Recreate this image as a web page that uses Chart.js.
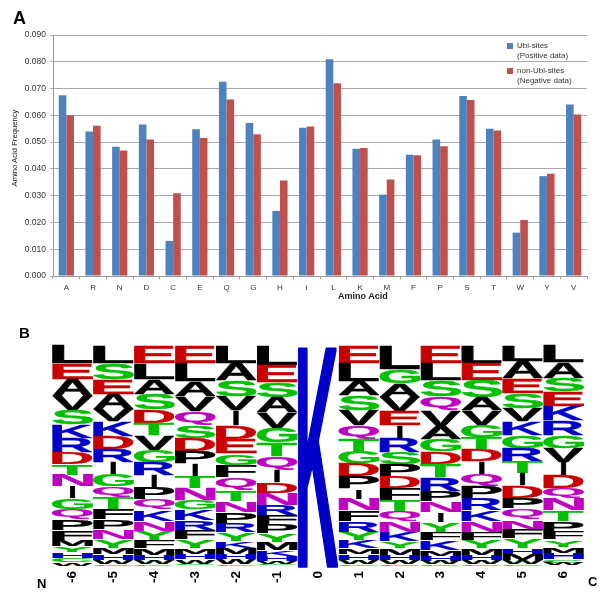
<!DOCTYPE html>
<html>
<head>
<meta charset="utf-8">
<script src="https://cdn.jsdelivr.net/npm/chart.js@4"></script>
<style>
    html, body { margin: 0; padding: 0; background: #fff; }
    #page { position: relative; width: 600px; height: 592px; overflow: hidden; font-family: "Liberation Sans", sans-serif; }
    #barChart, #logoChart { position: absolute; left: 0; filter: blur(0.35px); }
    #barChart { top: 0; }
    #logoChart { top: 320px; }
    .note { position: absolute; font-weight: bold; color: #000; line-height: 1; white-space: nowrap; }
</style>
</head>
<body>
<div id="page">
    <canvas id="barChart" width="600" height="310"></canvas>
    <canvas id="logoChart" width="600" height="272"></canvas>
    <div class="note" style="left:13px;top:9px;font-size:18px">A</div>
    <div class="note" style="left:19px;top:325px;font-size:15px">B</div>
    <div class="note" style="left:37px;top:577px;font-size:13px">N</div>
    <div class="note" style="left:588px;top:575px;font-size:13px">C</div>
    <div class="note" style="left:338px;top:292px;font-size:9px;color:#222">Amino Acid</div>
    <div class="note" style="left:15px;top:148px;font-size:7.7px;font-weight:normal;color:#111;transform:translate(-50%,-50%) rotate(-90deg)">Amino Acid Frequency</div>
</div>

<script>
// panel A
const aminoAcids = ['A', 'R', 'N', 'D', 'C', 'E', 'Q', 'G', 'H', 'I', 'L', 'K', 'M', 'F', 'P', 'S', 'T', 'W', 'Y', 'V'];
const ubiSites = [0.0675, 0.0540, 0.0483, 0.0566, 0.0131, 0.0548, 0.0725, 0.0571, 0.0243, 0.0554, 0.0809, 0.0475, 0.0304, 0.0453, 0.0510, 0.0672, 0.0550, 0.0162, 0.0373, 0.0640];
const nonUbiSites = [0.0600, 0.0561, 0.0469, 0.0510, 0.0309, 0.0515, 0.0659, 0.0529, 0.0357, 0.0558, 0.0720, 0.0478, 0.0360, 0.0451, 0.0485, 0.0657, 0.0543, 0.0209, 0.0382, 0.0603];

// panel B, letters top to bottom for each position, heights in percent
const positions = ['-6', '-5', '-4', '-3', '-2', '-1', '0', '1', '2', '3', '4', '5', '6'];
const logoLetters = [
    'LEAVSKRDTNIGQPFMYHCW',
    'LSEAVKDRIGQTFPNYMHWC',
    'ELASDTVGRIPQKNYFMHWC',
    'ELAVQSDPITNGKRFYMHWC',
    'LASVIDEGFQTNPRYKMHWC',
    'LESAVGTQIDNRFPYMKHWC',
    'K',
    'ELASVQTGDPINFRYKMHWC',
    'LGAVEIRSPDFTQNKYMHWC',
    'ELSQVAGDTRPNIYFKMHWC',
    'LESAVGTDIQPRKNFYMHWC',
    'LAESVKGRTIDPQNFYHMWC',
    'LASEKRGVIDQNTPFYMHCW'
];
const logoHeights = [
    [8.2, 7.0, 7.6, 6.4, 6.8, 6.1, 6.4, 5.3, 5.0, 5.3, 5.3, 5.0, 4.4, 5.0, 4.5, 3.0, 2.7, 2.7, 2.0, 1.4],
    [7.9, 7.3, 6.7, 7.0, 5.6, 6.8, 5.8, 5.9, 5.6, 5.5, 4.8, 5.5, 4.8, 4.5, 4.5, 3.8, 3.0, 2.6, 1.7, 0.8],
    [7.9, 7.3, 6.7, 7.3, 6.1, 5.6, 6.5, 5.6, 5.8, 5.6, 5.3, 5.0, 5.0, 4.5, 4.1, 3.8, 3.0, 2.6, 1.7, 0.8],
    [7.9, 8.3, 6.8, 6.8, 6.4, 5.8, 6.1, 5.6, 5.8, 5.3, 5.6, 4.2, 4.8, 4.5, 4.2, 3.8, 2.7, 2.6, 2.0, 0.8],
    [7.9, 8.0, 7.1, 6.4, 6.8, 6.2, 6.7, 5.2, 5.5, 5.8, 5.0, 5.2, 5.0, 4.1, 3.8, 3.2, 3.0, 2.3, 2.3, 0.8],
    [9.1, 7.6, 6.7, 7.0, 7.1, 6.5, 6.4, 6.1, 5.8, 4.8, 5.3, 4.8, 4.2, 4.1, 3.9, 3.6, 2.7, 2.3, 1.2, 0.8],
    [100],
    [7.9, 8.3, 6.5, 6.7, 7.0, 5.9, 6.1, 5.3, 5.8, 5.6, 4.5, 5.3, 5.0, 4.8, 3.8, 3.8, 2.7, 2.6, 1.7, 0.8],
    [10.6, 6.4, 6.4, 6.5, 6.4, 5.8, 6.4, 5.3, 5.8, 5.3, 5.3, 5.3, 4.5, 4.8, 4.2, 3.3, 3.0, 2.3, 1.7, 0.8],
    [7.9, 7.6, 7.6, 6.1, 7.3, 5.9, 5.8, 5.6, 6.1, 6.1, 4.7, 5.2, 4.5, 4.5, 3.8, 4.2, 2.6, 2.3, 1.7, 0.8],
    [7.9, 7.6, 7.9, 6.1, 6.5, 5.6, 5.3, 5.6, 5.8, 5.3, 5.8, 5.3, 5.0, 5.2, 3.8, 3.5, 3.0, 2.3, 2.0, 0.8],
    [7.1, 7.9, 6.8, 6.8, 5.8, 6.4, 5.8, 6.1, 5.3, 5.6, 5.6, 5.0, 5.0, 4.5, 4.1, 4.2, 2.7, 2.9, 1.7, 0.8],
    [7.6, 7.1, 6.1, 6.8, 6.5, 6.7, 5.8, 6.5, 5.9, 5.8, 4.8, 5.3, 5.0, 4.5, 3.8, 3.3, 2.7, 3.0, 1.5, 1.2]
];

const letterColors = {
    A: '#000', V: '#000', L: '#000', I: '#000', P: '#000', F: '#000', M: '#000', W: '#000',
    G: '#00c000', S: '#00c000', T: '#00c000', Y: '#00c000', C: '#00c000',
    K: '#0000c8', R: '#0000c8', H: '#0000c8',
    D: '#c80000', E: '#c80000',
    N: '#c000c0', Q: '#c000c0'
};

// legend sits inside the plot, upper right
const legendPlacer = {
    id: 'legendPlacer',
    afterLayout(chart) {
        const legend = chart.legend;
        const w = legend.width, h = legend.height;
        legend.left = 502;
        legend.right = 502 + w;
        legend.top = 37;
        legend.bottom = 37 + h;
    }
};

new Chart(document.getElementById('barChart').getContext('2d'), {
    type: 'bar',
    data: {
        labels: aminoAcids,
        datasets: [
            { label: ['Ubi-sites', '(Positive data)'], data: ubiSites, backgroundColor: '#4f81bd' },
            { label: ['non-Ubi-sites', '(Negative data)'], data: nonUbiSites, backgroundColor: '#c0504d' }
        ]
    },
    options: {
        responsive: false,
        animation: false,
        categoryPercentage: 0.57,
        barPercentage: 1,
        layout: { padding: { top: 35, right: 13 } },
        plugins: {
            tooltip: { enabled: false },
            legend: {
                position: 'chartArea',
                align: 'start',
                labels: {
                    boxWidth: 6,
                    boxHeight: 6,
                    padding: 5,
                    color: '#333',
                    font: { family: 'Liberation Sans', size: 8, lineHeight: 1.25 }
                }
            }
        },
        scales: {
            x: {
                grid: { drawOnChartArea: false, tickLength: 3, color: '#999' },
                border: { color: '#999' },
                ticks: { color: '#333', padding: 4, font: { family: 'Liberation Sans', size: 8 } },
                afterFit: function (scale) { scale.height = 34; }
            },
            y: {
                min: 0,
                max: 0.09,
                grid: { color: '#aaa', tickLength: 3 },
                border: { color: '#999' },
                ticks: {
                    stepSize: 0.01,
                    color: '#333',
                    padding: 4,
                    font: { family: 'Liberation Sans', size: 8.5 },
                    callback: function (value) { return value.toFixed(3); }
                },
                afterFit: function (scale) { scale.width = 53; }
            }
        }
    },
    plugins: [legendPlacer]
});

// stretches one glyph over each stacked bar
const letterPlugin = {
    id: 'letterPlugin',
    afterDatasetsDraw(chart) {
        const ctx = chart.ctx;
        ctx.save();
        ctx.font = 'bold 100px "Liberation Sans"';
        ctx.textAlign = 'left';
        ctx.textBaseline = 'alphabetic';
        ctx.lineWidth = 1.5;
        ctx.lineJoin = 'round';
        chart.data.datasets.forEach((dataset, rank) => {
            chart.getDatasetMeta(rank).data.forEach((bar, col) => {
                const letter = logoLetters[col][rank];
                if (!letter) return;
                const m = ctx.measureText(letter);
                const glyphW = m.actualBoundingBoxLeft + m.actualBoundingBoxRight;
                const glyphH = m.actualBoundingBoxAscent + m.actualBoundingBoxDescent;
                const top = Math.min(bar.y, bar.base);
                const h = Math.abs(bar.base - bar.y);
                const w = letter === 'I' ? bar.width * 0.13 : bar.width;
                ctx.save();
                ctx.translate(bar.x - w / 2, top);
                ctx.scale(w / glyphW, Math.max(h - 0.6, 0.5) / glyphH);
                ctx.fillStyle = letterColors[letter];
                ctx.strokeStyle = letterColors[letter];
                ctx.fillText(letter, m.actualBoundingBoxLeft, m.actualBoundingBoxAscent);
                ctx.strokeText(letter, m.actualBoundingBoxLeft, m.actualBoundingBoxAscent);
                ctx.restore();
            });
        });
        ctx.restore();
    }
};

const logoDatasets = [];
for (let rank = 0; rank < 20; rank++) {
    logoDatasets.push({
        label: 'rank ' + (rank + 1),
        data: logoHeights.map(h => h[rank] ?? 0),
        backgroundColor: 'transparent',
        stack: 'logo'
    });
}

new Chart(document.getElementById('logoChart').getContext('2d'), {
    type: 'bar',
    data: { labels: positions, datasets: logoDatasets },
    options: {
        responsive: false,
        animation: false,
        categoryPercentage: 1,
        barPercentage: 0.98,
        layout: { padding: { top: 26, left: 52, right: 16 } },
        plugins: { legend: { display: false }, tooltip: { enabled: false } },
        scales: {
            x: {
                stacked: true,
                grid: { display: false, drawTicks: false },
                border: { display: false },
                ticks: {
                    autoSkip: false,
                    minRotation: 90,
                    maxRotation: 90,
                    padding: 5,
                    color: '#000',
                    font: { family: 'Liberation Sans', size: 13.5, weight: 'bold' }
                },
                afterFit: function (scale) { scale.height = 26; }
            },
            y: { stacked: true, display: false, reverse: true, min: 0, max: 100 }
        }
    },
    plugins: [letterPlugin]
});
</script>
</body>
</html>
